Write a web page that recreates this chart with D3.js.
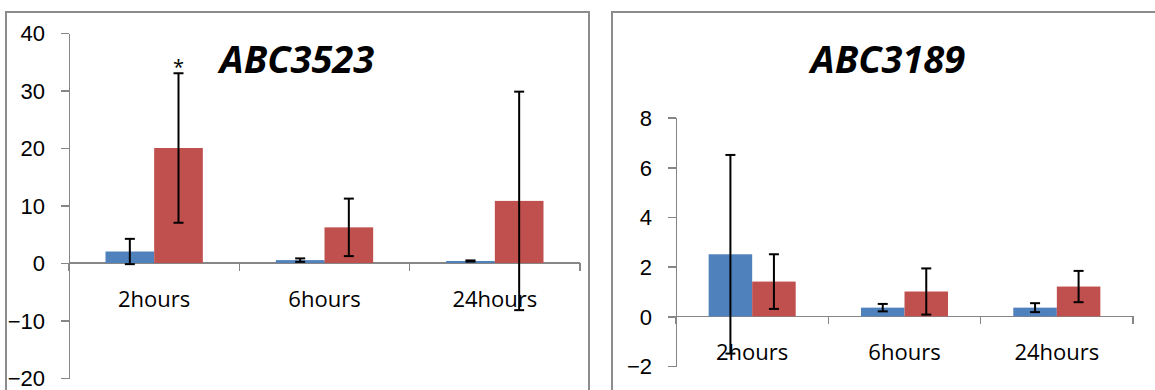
<!DOCTYPE html>
<html lang="en">
<meta charset="utf-8">
<head>
  <style>
    body { margin: 0; background: #fff; }
    svg { display: block; font-family: "Open Sans", "Liberation Sans", sans-serif; }
    .axis path, .axis line { fill: none; stroke: #868686; stroke-width: 1.5px; shape-rendering: crispEdges; }
    .axis text { font-size: 22px; fill: #000; }
  </style>
  <title></title>
</head>
<body>
<script src="https://d3js.org/d3.v7.min.js"></script>
<script>

  // categories and series
  const categories = ["2hours", "6hours", "24hours"];
  const seriesNames = ["series1", "series2"];
  const seriesColors = ["#4F81BD", "#C0504D"];

  // ABC3523 values (mean and +/- error)
  const abc3523Blue = [2.0, 0.5, 0.35];
  const abc3523BlueErr = [2.2, 0.3, 0.1];
  const abc3523Red = [20.0, 6.2, 10.8];
  const abc3523RedErr = [13.0, 5.0, 19.0];
  const abc3523Ticks = [-20, -10, 0, 10, 20, 30, 40];

  // ABC3189 values (mean and +/- error)
  const abc3189Blue = [2.5, 0.35, 0.35];
  const abc3189BlueErr = [4.0, 0.15, 0.18];
  const abc3189Red = [1.4, 1.0, 1.2];
  const abc3189RedErr = [1.1, 0.93, 0.63];
  const abc3189Ticks = [-2, 0, 2, 4, 6, 8];

  const svg = d3.select("body").append("svg")
      .attr("width", 1155)
      .attr("height", 390);

  function drawPanel(p) {
      const g = svg.append("g");

      // chart frame
      g.append("rect")
          .attr("x", p.frame[0]).attr("y", p.frame[1])
          .attr("width", p.frame[2]).attr("height", p.frame[3])
          .attr("fill", "#fff")
          .attr("stroke", "#8c8c8c")
          .attr("stroke-width", 2);

      const x = d3.scaleBand().domain(categories).range([p.left, p.right]);
      const x1 = d3.scaleBand().domain(seriesNames)
          .range([0, x.bandwidth()])
          .paddingInner(0).paddingOuter(0.75);
      const y = d3.scaleLinear().domain(p.domain).range([p.bottom, p.top]);

      const rows = [];
      categories.forEach(function (c, i) {
          rows.push({cat: c, s: seriesNames[0], v: p.blue[i], e: p.blueErr[i], color: seriesColors[0]});
          rows.push({cat: c, s: seriesNames[1], v: p.red[i], e: p.redErr[i], color: seriesColors[1]});
      });

      // y axis
      g.append("g")
          .attr("class", "axis")
          .attr("transform", "translate(" + p.left + ",0)")
          .call(d3.axisLeft(y).tickValues(p.ticks).tickSize(8).tickSizeOuter(0).tickPadding(16))
          .selectAll("text").attr("dy", "0.36em");

      // x axis at zero
      const y0 = y(0);
      const xa = g.append("g").attr("class", "axis");
      xa.append("line")
          .attr("x1", p.left).attr("x2", p.right)
          .attr("y1", y0).attr("y2", y0);
      const edges = categories.map(function (c) { return x(c); }).concat([x(categories[categories.length - 1]) + x.bandwidth()]);
      xa.selectAll(".edge").data(edges).enter().append("line")
          .attr("x1", function (d) { return d; }).attr("x2", function (d) { return d; })
          .attr("y1", y0).attr("y2", y0 + 8);

      // bars
      g.selectAll(".bar").data(rows).enter().append("rect")
          .attr("x", function (d) { return x(d.cat) + x1(d.s); })
          .attr("width", x1.bandwidth())
          .attr("y", function (d) { return y(Math.max(0, d.v)); })
          .attr("height", function (d) { return Math.abs(y(d.v) - y0); })
          .attr("fill", function (d) { return d.color; });

      // category labels
      g.selectAll(".cat").data(categories).enter().append("text")
          .attr("x", function (d) { return x(d) + x.bandwidth() / 2; })
          .attr("y", y0 + 44)
          .attr("text-anchor", "middle")
          .attr("font-size", 22)
          .text(function (d) { return d; });

      // error bars
      const eb = g.selectAll(".err").data(rows).enter().append("g")
          .attr("stroke", "#000").attr("stroke-width", 2);
      const cx = function (d) { return x(d.cat) + x1(d.s) + x1.bandwidth() / 2; };
      eb.append("line")
          .attr("x1", cx).attr("x2", cx)
          .attr("y1", function (d) { return y(d.v + d.e); })
          .attr("y2", function (d) { return y(d.v - d.e); });
      eb.append("line")
          .attr("x1", function (d) { return cx(d) - 5; }).attr("x2", function (d) { return cx(d) + 5; })
          .attr("y1", function (d) { return y(d.v + d.e); })
          .attr("y2", function (d) { return y(d.v + d.e); });
      eb.append("line")
          .attr("x1", function (d) { return cx(d) - 5; }).attr("x2", function (d) { return cx(d) + 5; })
          .attr("y1", function (d) { return y(d.v - d.e); })
          .attr("y2", function (d) { return y(d.v - d.e); });

      // significance marks
      (p.stars || []).forEach(function (st) {
          const d = rows.find(function (r) { return r.cat === st.cat && r.s === st.s; });
          g.append("text")
              .attr("x", cx(d))
              .attr("y", y(d.v + d.e) + 1)
              .attr("text-anchor", "middle")
              .attr("font-size", 20)
              .text("*");
      });

      // title
      g.append("text")
          .attr("x", p.titleX)
          .attr("y", 73)
          .attr("text-anchor", "middle")
          .attr("font-size", 38)
          .attr("font-weight", "bold")
          .attr("font-style", "italic")
          .text(p.title);
  }

  drawPanel({
      title: "ABC3523", titleX: 297,
      frame: [6, 12, 583, 400],
      left: 69, right: 580, top: 33, bottom: 378,
      domain: [-20, 40], ticks: abc3523Ticks,
      blue: abc3523Blue, blueErr: abc3523BlueErr,
      red: abc3523Red, redErr: abc3523RedErr,
      stars: [{cat: "2hours", s: "series2"}]
  });

  drawPanel({
      title: "ABC3189", titleX: 888,
      frame: [612, 12, 600, 400],
      left: 676, right: 1133, top: 117.7, bottom: 366,
      domain: [-2, 8], ticks: abc3189Ticks,
      blue: abc3189Blue, blueErr: abc3189BlueErr,
      red: abc3189Red, redErr: abc3189RedErr
  });

</script>
</body>
</html>
